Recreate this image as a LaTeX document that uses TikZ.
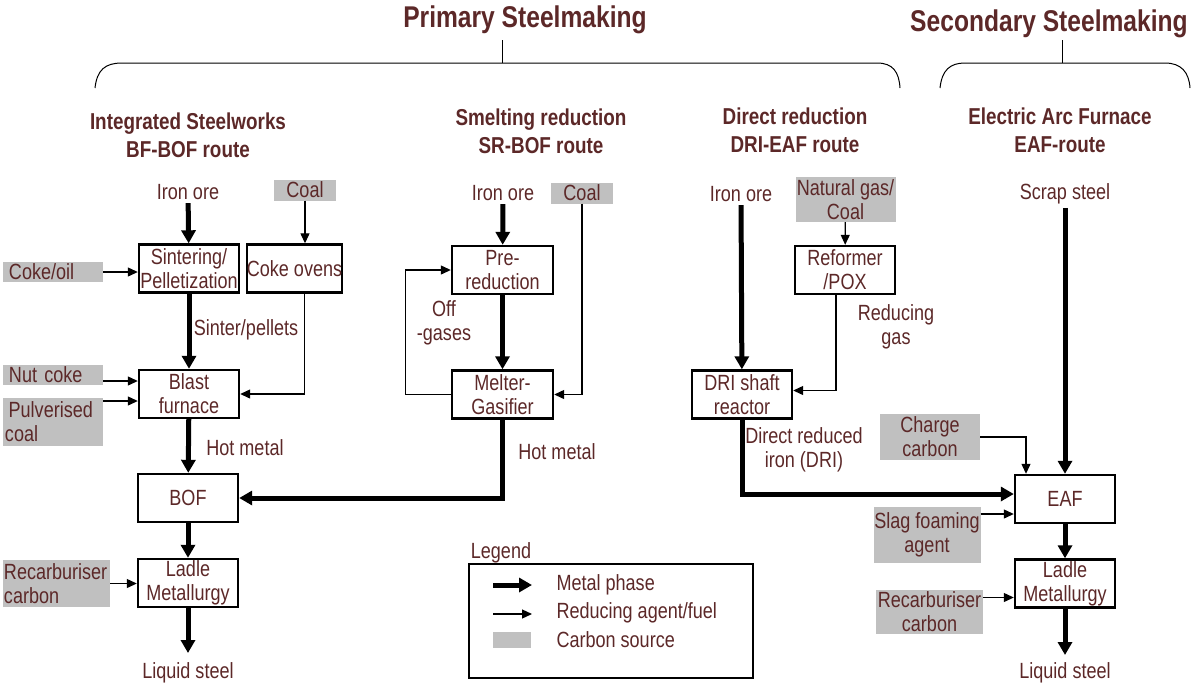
\documentclass[tikz,border=0pt]{standalone}
\usepackage{fontspec}
\setmainfont{Liberation Sans}[FakeStretch=0.82]
\usepackage{tikz}
\usetikzlibrary{arrows.meta,positioning}
\definecolor{txtbrown}{RGB}{92,40,40}
\definecolor{carbongray}{RGB}{192,192,192}

\begin{document}
\begin{tikzpicture}[x=1pt,y=-1pt,
    every node/.style={text=txtbrown,font=\fontsize{22}{24}\selectfont},
    proc/.style={draw=black,line width=2.4pt,minimum width=100pt,minimum height=48pt,inner sep=0pt,align=center},
    carbon/.style={fill=carbongray,inner sep=0pt,align=center},
    carbonl/.style={carbon,align=left},
    metal/.style={draw=black,line width=5pt,-{Triangle[length=13pt,width=14pt]}},
    fuel/.style={draw=black,line width=1.2pt,-{Triangle[length=10pt,width=9pt]}},
    head/.style={font=\fontsize{23}{28}\selectfont\bfseries,align=center},
    title/.style={font=\fontsize{30}{32}\selectfont\bfseries}]

  \useasboundingbox (0,0) rectangle (1192,689);

  % headings and braces
  \node[title] (primary) at (525,20) {Primary Steelmaking};
  \node[title] (secondary) at (1049,24) {Secondary Steelmaking};
  \draw[line width=1pt] (95,88) .. controls (97,70) and (105,63) .. (122,63) -- (877,63)
        .. controls (893,63) and (899,72) .. (900,88);
  \draw[line width=1pt] (502,63) -- (502,40);
  \draw[line width=1pt] (940,88) .. controls (942,70) and (950,63) .. (965,63) -- (1165,63)
        .. controls (1181,63) and (1189,72) .. (1190,88);
  \draw[line width=1pt] (1062,63) -- (1062,40);

  \node[head] (bfhead) at (188,135) {Integrated Steelworks\\BF-BOF route};
  \node[head] (srhead) at (541,131) {Smelting reduction\\SR-BOF route};
  \node[head] (drihead) at (795,130) {Direct reduction\\DRI-EAF route};
  \node[head] (eafhead) at (1060,130) {Electric Arc Furnace\\EAF-route};

  % BF-BOF route
  \node (ore1) at (188,192) {Iron ore};
  \node[carbon,minimum width=62pt,minimum height=21pt] (coal1) at (305,190) {Coal};
  \node[proc] (sinter) at (189,268.5) {Sintering/\\Pelletization};
  \node[proc,minimum width=81pt] (coke) at (294.5,268.5) {Coke ovens};
  \node[carbonl,minimum width=100pt,minimum height=20pt,text width=88pt] (cokeoil) at (53,272) {Coke/oil};
  \node (sinterlbl) at (246,330) {Sinter/pellets};
  \node[proc] (blast) at (189,394) {Blast\\furnace};
  \node[carbonl,minimum width=100pt,minimum height=20pt,text width=88pt] (nutcoke) at (53,375) {Nut coke};
  \node[carbonl,minimum width=100pt,minimum height=48pt,text width=96pt] (pulv) at (53,422) {\,Pulverised\\coal};
  \node (hot1) at (245,448) {Hot metal};
  \node[proc] (bof) at (188,498) {BOF};
  \node[proc] (ladle1) at (188,583) {Ladle\\Metallurgy};
  \node[carbonl,minimum width=107pt,minimum height=47pt,text width=105pt] (recarb1) at (56.5,583.5) {Recarburiser\\carbon};
  \coordinate (steelout1) at (188,653);
  \node (steel1) at (188,673) {Liquid steel};

  % SR-BOF route
  \node (ore2) at (503,193) {Iron ore};
  \node[carbon,minimum width=62pt,minimum height=21pt] (coal2) at (582,193) {Coal};
  \node[proc,minimum width=101pt] (prered) at (502.5,270) {Pre-\\reduction};
  \node[proc,minimum width=101pt] (melter) at (502.5,394.5) {Melter-\\Gasifier};
  \node[align=center] (offgas) at (444,323) {Off\\-gases};
  \node (hot2) at (557,452) {Hot metal};

  % DRI-EAF route
  \node (ore3) at (741,194) {Iron ore};
  \node[carbon,minimum width=100pt,minimum height=45pt] (natgas) at (845.5,199.5) {Natural gas/\\Coal};
  \node[proc] (reformer) at (845,270) {Reformer\\/POX};
  \node[align=center] (redgas) at (896,327) {Reducing\\gas};
  \node[proc] (dri) at (742,394.5) {DRI shaft\\reactor};
  \node[align=center] (drilbl) at (804,450) {Direct reduced\\iron (DRI)};

  % EAF route
  \node (scrap) at (1065,194) {Scrap steel};
  \node[proc] (eaf) at (1065,499) {EAF};
  \node[carbon,minimum width=100pt,minimum height=46pt] (charge) at (930,437) {Charge\\carbon};
  \node[carbon,minimum width=107pt,minimum height=56pt] (slag) at (927,535) {Slag foaming\\agent};
  \node[proc] (ladle2) at (1065,583.5) {Ladle\\Metallurgy};
  \node[carbon,minimum width=107pt,minimum height=44pt] (recarb2) at (929.5,612) {Recarburiser\\carbon};
  \coordinate (steelout2) at (1065,655);
  \node (steel2) at (1065,673) {Liquid steel};

  % metal phase
  \draw[metal] (ore1) -- (sinter);
  \draw[metal] (sinter) -- (blast);
  \draw[metal] (blast) -- (bof);
  \draw[metal] (bof) -- (ladle1);
  \draw[metal] (ladle1) -- (steelout1);
  \draw[metal] (ore2) -- (prered);
  \draw[metal] (prered) -- (melter);
  \draw[metal] (melter.south) |- (bof.east);
  \draw[metal] (ore3) -- (dri);
  \draw[metal] (dri.south) |- ([yshift=5pt]eaf.west);
  \draw[metal] (scrap) -- (eaf);
  \draw[metal] (eaf) -- (ladle2);
  \draw[metal] (ladle2) -- (steelout2);

  % reducing agents and fuels
  \draw[fuel] (coal1) -- (coal1 |- coke.north);
  \draw[fuel] (cokeoil) -- (cokeoil -| sinter.west);
  \draw[fuel] ([xshift=10pt]coke.south) |- (blast.east);
  \coordinate (nutin) at ([yshift=13pt]blast.west);
  \coordinate (pulvin) at ([yshift=-7pt]blast.west);
  \draw[fuel] (nutin -| nutcoke.east) -- (nutin);
  \draw[fuel] (pulvin -| pulv.east) -- (pulvin);
  \draw[fuel] (recarb1) -- (recarb1 -| ladle1.west);
  \draw[fuel] (coal2.south) |- (melter.east);
  \draw[fuel] (melter.west) -- ++(-45,0) |- (prered.west);
  \draw[fuel] (natgas) -- (reformer);
  \draw[fuel] ([xshift=-9pt]reformer.south) |- ([yshift=4pt]dri.east);
  \draw[fuel] (charge.east) -| ([xshift=-39pt]eaf.north);
  \coordinate (slagin) at ([yshift=-15pt]eaf.west);
  \draw[fuel] (slagin -| slag.east) -- (slagin);
  \coordinate (recarbin) at ([yshift=-14pt]ladle2.west);
  \draw[fuel] (recarbin -| recarb2.east) -- (recarbin);

  % legend
  \node (legendlbl) at (501,553) {Legend};
  \node[draw=black,line width=1.2pt,minimum width=284pt,minimum height=114pt,inner sep=0pt] (legend) at (611,621) {};
  \coordinate (lgmetal) at (493,585);
  \coordinate (lgfuel) at (493,614);
  \draw[metal] (lgmetal) -- ++(39,0);
  \draw[fuel] (lgfuel) -- ++(39,0);
  \node[carbon,minimum width=38pt,minimum height=16pt] (lgcarbon) at (512,640) {};
  \node[anchor=west] (lgmetallbl) at (553,585) {Metal phase};
  \node[anchor=west] (lgfuellbl) at (553,613) {Reducing agent/fuel};
  \node[anchor=west] (lgcarbonlbl) at (553,640) {Carbon source};
\end{tikzpicture}
\end{document}
